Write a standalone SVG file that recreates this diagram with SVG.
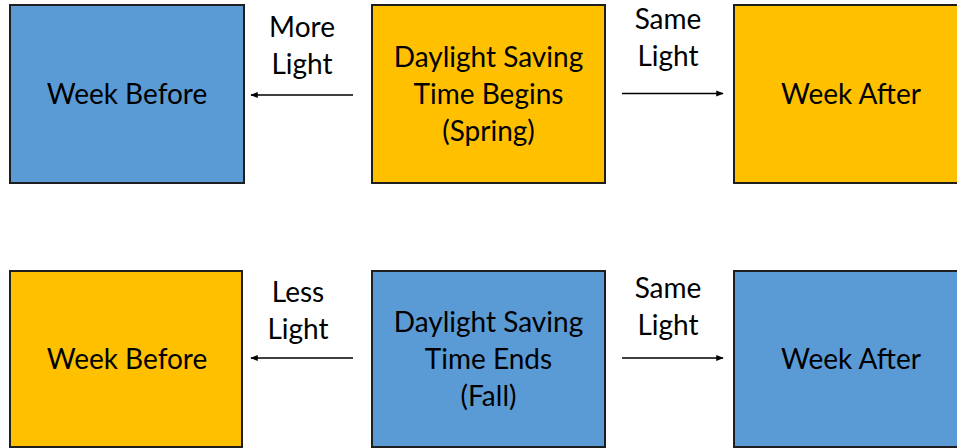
<svg xmlns="http://www.w3.org/2000/svg" width="957" height="448" viewBox="0 0 957 448">
  <style>
    .box { stroke: #1e1e1e; stroke-width: 2; }
    .blue { fill: #5B9BD5; }
    .gold { fill: #FFC000; }
    .t { font-family: Lato, "Open Sans", "Liberation Sans", sans-serif; font-size: 28px; fill: #000; text-anchor: middle; }
    .edge { stroke: #000; stroke-width: 1.5; fill: none; marker-end: url(#head); }
  </style>
  <defs>
    <marker id="head" viewBox="0 0 10 10" refX="9" refY="5" markerWidth="5" markerHeight="5" orient="auto" markerUnits="strokeWidth">
      <path d="M0,1 L10,5 L0,9 Z" fill="#000"/>
    </marker>
  </defs>
  <rect width="957" height="448" fill="#fff"/>

  <!-- spring row -->
  <g id="spring-week-before">
    <rect class="box blue" x="10" y="5" width="234" height="178"/>
    <text class="t" x="127" y="104">Week Before</text>
  </g>
  <g id="dst-begins">
    <rect class="box gold" x="372" y="5" width="233" height="178"/>
    <text class="t" x="488.5" y="67">Daylight Saving</text>
    <text class="t" x="488.5" y="104">Time Begins</text>
    <text class="t" x="488.5" y="141">(Spring)</text>
  </g>
  <g id="spring-week-after">
    <rect class="box gold" x="734" y="5" width="240" height="178"/>
    <text class="t" x="851" y="104">Week After</text>
  </g>

  <!-- fall row -->
  <g id="fall-week-before">
    <rect class="box gold" x="10" y="271" width="232" height="176"/>
    <text class="t" x="127" y="369">Week Before</text>
  </g>
  <g id="dst-ends">
    <rect class="box blue" x="372" y="271" width="233" height="176"/>
    <text class="t" x="488.5" y="332">Daylight Saving</text>
    <text class="t" x="488.5" y="369">Time Ends</text>
    <text class="t" x="488.5" y="406">(Fall)</text>
  </g>
  <g id="fall-week-after">
    <rect class="box blue" x="734" y="271" width="240" height="176"/>
    <text class="t" x="851" y="369">Week After</text>
  </g>

  <!-- connectors and their labels -->
  <g id="connectors">
    <line class="edge" x1="353" y1="95" x2="251" y2="95"/>
    <line class="edge" x1="622" y1="93.5" x2="723" y2="93.5"/>
    <line class="edge" x1="353" y1="358" x2="251" y2="358"/>
    <line class="edge" x1="622" y1="358" x2="723" y2="358"/>
    <text class="t" x="302" y="37">More</text>
    <text class="t" x="302" y="74">Light</text>
    <text class="t" x="668" y="29">Same</text>
    <text class="t" x="668" y="66">Light</text>
    <text class="t" x="298" y="302">Less</text>
    <text class="t" x="298" y="339">Light</text>
    <text class="t" x="668" y="298">Same</text>
    <text class="t" x="668" y="335">Light</text>
  </g>
</svg>
